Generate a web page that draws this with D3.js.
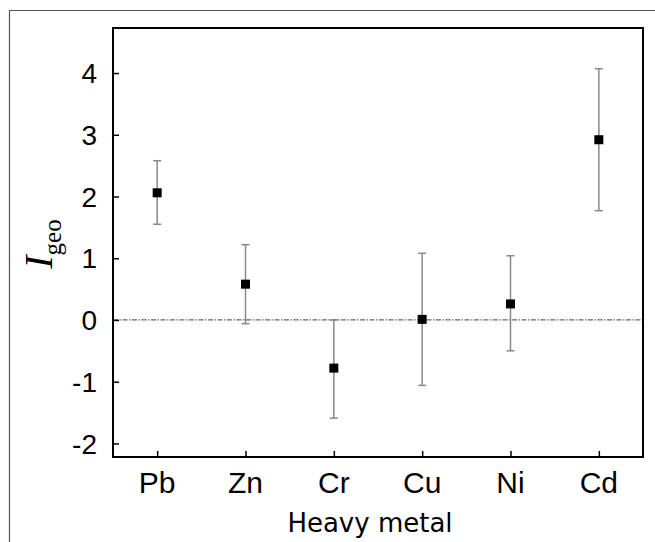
<!DOCTYPE html>
<html>
<head>
<meta charset="utf-8">
<script src="https://cdn.jsdelivr.net/npm/d3@7"></script>
<style>
body { margin: 0; background: #fff; }
</style>
</head>
<body>
<svg id="viz" width="655" height="542"></svg>
<script>
var metals = ["Pb", "Zn", "Cr", "Cu", "Ni", "Cd"];
var igeoMean = [2.06, 0.58, -0.78, 0.01, 0.26, 2.92];
var igeoLow = [1.55, -0.06, -1.59, -1.06, -0.50, 1.77];
var igeoHigh = [2.58, 1.22, 0.00, 1.08, 1.04, 4.07];
var yTicks = [-2, -1, 0, 1, 2, 3, 4];

var box = {left: 113, right: 643, top: 28, bottom: 457};

var svg = d3.select("#viz");

// outer frame, cut off by the picture edge
svg.append("path")
    .attr("d", "M9.5,542 L9.5,10.5 L655,10.5")
    .attr("fill", "none")
    .attr("stroke", "#555")
    .attr("stroke-width", 1.2);

var x = d3.scalePoint()
    .domain(metals)
    .range([box.left, box.right])
    .padding(0.5);

var y = d3.scaleLinear()
    .domain([-2.22, 4.73])
    .range([box.bottom, box.top]);

var data = metals.map(function(m, i){
    return {name: m, mean: igeoMean[i], lo: igeoLow[i], hi: igeoHigh[i]};
});

// zero reference line
svg.append("line")
    .attr("x1", box.left)
    .attr("x2", box.right)
    .attr("y1", y(0))
    .attr("y2", y(0))
    .attr("stroke", "#666")
    .attr("stroke-width", 1.2)
    .attr("stroke-dasharray", "5,1.5,1.5,1.5");

// y axis ticks pointing inward
var yAxis = svg.append("g")
    .attr("transform", "translate(" + box.left + ",0)")
    .call(d3.axisRight(y).tickValues(yTicks).tickSize(6).tickFormat(""));
yAxis.select(".domain").remove();
yAxis.selectAll("line").attr("stroke", "#000").attr("stroke-width", 1.5);

svg.selectAll(".ylab").data(yTicks)
    .enter()
    .append("text")
    .attr("class", "ylab")
    .attr("x", 97)
    .attr("y", function(d){ return y(d); })
    .attr("dy", "0.36em")
    .attr("text-anchor", "end")
    .attr("font-family", "Liberation Sans, Arial, sans-serif")
    .attr("font-size", 28)
    .text(function(d){ return d; });

// x axis ticks pointing inward
var xAxis = svg.append("g")
    .attr("transform", "translate(0," + box.bottom + ")")
    .call(d3.axisTop(x).tickSize(6).tickFormat(""));
xAxis.select(".domain").remove();
xAxis.selectAll("line").attr("stroke", "#000").attr("stroke-width", 1.5);

svg.selectAll(".xlab").data(metals)
    .enter()
    .append("text")
    .attr("class", "xlab")
    .attr("x", function(d){ return x(d); })
    .attr("y", 493)
    .attr("text-anchor", "middle")
    .attr("font-family", "Liberation Sans, Arial, sans-serif")
    .attr("font-size", 30)
    .text(function(d){ return d; });

// plot box
svg.append("rect")
    .attr("x", box.left)
    .attr("y", box.top)
    .attr("width", box.right - box.left)
    .attr("height", box.bottom - box.top)
    .attr("fill", "none")
    .attr("stroke", "#000")
    .attr("stroke-width", 2);

// error bars
var bars = svg.selectAll(".err").data(data)
    .enter()
    .append("g")
    .attr("class", "err")
    .attr("stroke", "#888")
    .attr("stroke-width", 1.5);

bars.append("line")
    .attr("x1", function(d){ return x(d.name); })
    .attr("x2", function(d){ return x(d.name); })
    .attr("y1", function(d){ return y(d.lo); })
    .attr("y2", function(d){ return y(d.hi); });
bars.append("line")
    .attr("x1", function(d){ return x(d.name) - 4; })
    .attr("x2", function(d){ return x(d.name) + 4; })
    .attr("y1", function(d){ return y(d.hi); })
    .attr("y2", function(d){ return y(d.hi); });
bars.append("line")
    .attr("x1", function(d){ return x(d.name) - 4; })
    .attr("x2", function(d){ return x(d.name) + 4; })
    .attr("y1", function(d){ return y(d.lo); })
    .attr("y2", function(d){ return y(d.lo); });

// mean markers
svg.selectAll(".pt").data(data)
    .enter()
    .append("rect")
    .attr("class", "pt")
    .attr("x", function(d){ return x(d.name) - 4.5; })
    .attr("y", function(d){ return y(d.mean) - 4.5; })
    .attr("width", 9)
    .attr("height", 9)
    .attr("fill", "#000");

// axis titles
svg.append("text")
    .attr("x", 370)
    .attr("y", 532)
    .attr("text-anchor", "middle")
    .attr("font-family", "DejaVu Sans, Verdana, sans-serif")
    .attr("font-size", 26)
    .text("Heavy metal");

var ylab = svg.append("text")
    .attr("transform", "translate(52,244) rotate(-90)")
    .attr("text-anchor", "middle")
    .attr("font-family", "Liberation Serif, Times New Roman, serif");
ylab.append("tspan")
    .attr("font-style", "italic")
    .attr("font-size", 40)
    .text("I");
ylab.append("tspan")
    .attr("font-size", 25)
    .attr("dy", 9)
    .text("geo");
</script>
</body>
</html>
